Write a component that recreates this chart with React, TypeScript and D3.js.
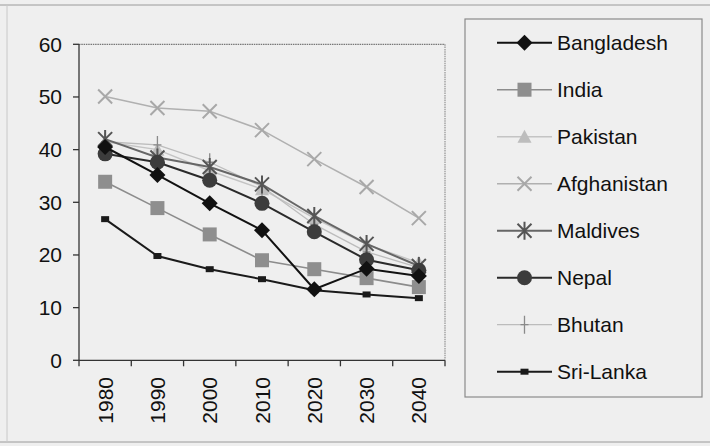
import React, { useEffect } from "react";
import * as d3 from "d3";

const years = ["1980", "1990", "2000", "2010", "2020", "2030", "2040"];
const yTicks = [0, 10, 20, 30, 40, 50, 60];

const bangladesh = [40.5, 35.2, 29.8, 24.7, 13.5, 17.4, 16.0];
const india = [33.9, 28.9, 23.9, 19.0, 17.3, 15.6, 13.9];
const pakistan = [41.5, 40.0, 36.0, 32.5, 27.0, 22.0, 18.5];
const afghanistan = [50.1, 47.9, 47.3, 43.7, 38.2, 32.9, 27.0];
const maldives = [42.0, 38.5, 36.7, 33.4, 27.4, 22.1, 17.9];
const nepal = [39.2, 37.6, 34.2, 29.8, 24.4, 19.1, 17.1];
const bhutan = [41.5, 40.9, 37.6, 33.0, 25.8, 20.6, 17.6];
const sriLanka = [26.8, 19.8, 17.3, 15.4, 13.3, 12.5, 11.8];

type Marker = "diamond" | "square" | "triangle" | "x" | "asterisk" | "circle" | "plus" | "smallsquare";
interface Series { name: string; values: number[]; line: string; lw: number; marker: Marker; mcolor: string; }

const series: Series[] = [
  { name: "Afghanistan", values: afghanistan, line: "#b0b0b0", lw: 1.6, marker: "x", mcolor: "#a8a8a8" },
  { name: "Pakistan", values: pakistan, line: "#c4c4c4", lw: 1.5, marker: "triangle", mcolor: "#bdbdbd" },
  { name: "Bhutan", values: bhutan, line: "#bcbcbc", lw: 1.3, marker: "plus", mcolor: "#8a8a8a" },
  { name: "India", values: india, line: "#8c8c8c", lw: 1.6, marker: "square", mcolor: "#8e8e8e" },
  { name: "Maldives", values: maldives, line: "#666666", lw: 2, marker: "asterisk", mcolor: "#555555" },
  { name: "Nepal", values: nepal, line: "#2a2a2a", lw: 2, marker: "circle", mcolor: "#3c3c3c" },
  { name: "Sri-Lanka", values: sriLanka, line: "#1a1a1a", lw: 2, marker: "smallsquare", mcolor: "#1a1a1a" },
  { name: "Bangladesh", values: bangladesh, line: "#111111", lw: 2, marker: "diamond", mcolor: "#111111" },
];

const legendOrder = ["Bangladesh", "India", "Pakistan", "Afghanistan", "Maldives", "Nepal", "Bhutan", "Sri-Lanka"];

const W = 710, H = 446;
const left = 79, right = 445, top = 44.3, bottom = 360.3;

function MarkerShape({ m, cx, cy, color }: { m: Marker; cx: number; cy: number; color: string }) {
  switch (m) {
    case "diamond":
      return <path d={`M${cx},${cy - 8}L${cx + 8},${cy}L${cx},${cy + 8}L${cx - 8},${cy}Z`} fill={color} />;
    case "square":
      return <rect x={cx - 7} y={cy - 7} width={14} height={14} fill={color} />;
    case "smallsquare":
      return <rect x={cx - 4} y={cy - 3} width={8} height={6} fill={color} />;
    case "triangle":
      return <path d={`M${cx},${cy - 7}L${cx + 7},${cy + 6}L${cx - 7},${cy + 6}Z`} fill={color} />;
    case "circle":
      return <circle cx={cx} cy={cy} r={7.5} fill={color} />;
    case "x":
      return <path d={`M${cx - 7},${cy - 7}L${cx + 7},${cy + 7}M${cx + 7},${cy - 7}L${cx - 7},${cy + 7}`} stroke={color} strokeWidth={2} fill="none" />;
    case "asterisk":
      return <path d={`M${cx - 7},${cy - 7}L${cx + 7},${cy + 7}M${cx + 7},${cy - 7}L${cx - 7},${cy + 7}M${cx},${cy - 9}L${cx},${cy + 9}`} stroke={color} strokeWidth={2} fill="none" />;
    case "plus":
      return <path d={`M${cx},${cy - 9}L${cx},${cy + 9}M${cx - 4},${cy}L${cx + 4},${cy}`} stroke={color} strokeWidth={1.3} fill="none" />;
  }
}

export default function App() {
  useEffect(() => {
    document.body.style.margin = "0";
  }, []);
  const x = d3.scaleBand().domain(years).range([left, right]);
  const y = d3.scaleLinear().domain([0, 60]).range([bottom, top]);
  const line = d3.line<number>().x((_, i) => (x(years[i]) as number) + x.bandwidth() / 2).y((v) => y(v));
  const font = "'Liberation Sans', Arial, sans-serif";
  const legX = 465, legY = 19, legW = 237, legH = 378;
  const legRow = (i: number) => 42.7 + i * 47;

  return (
    <svg width={W} height={H} style={{ display: "block" }} fontFamily={font}>
      <rect x={0} y={0} width={W} height={H} fill="#efefef" />
      <line x1={0} x2={W} y1={5} y2={5} stroke="#9a9a9a" strokeWidth={1} />
      <line x1={0} x2={W} y1={442} y2={442} stroke="#9a9a9a" strokeWidth={1} />
      <line x1={7} x2={7} y1={5} y2={442} stroke="#c8c8c8" strokeWidth={1} />
      <line x1={left} x2={right} y1={top} y2={top} stroke="#777" strokeWidth={1.3} strokeDasharray="1.5 0.8" />
      <line x1={right} x2={right} y1={top} y2={bottom} stroke="#999" strokeWidth={1.3} strokeDasharray="1.5 0.8" />
      <line x1={left} x2={left} y1={top} y2={bottom} stroke="#333" strokeWidth={1.3} />
      {yTicks.map((t) => (
        <g key={t}>
          <line x1={left - 6} x2={left} y1={y(t)} y2={y(t)} stroke="#333" strokeWidth={1.3} />
          <text x={62} y={y(t)} dy="0.35em" textAnchor="end" fontSize={21} fill="#111">{t}</text>
        </g>
      ))}
      <line x1={left} x2={right} y1={bottom} y2={bottom} stroke="#333" strokeWidth={1.3} />
      {years.map((yr) => (
        <line key={"t" + yr} x1={x(yr) as number} x2={x(yr) as number} y1={bottom} y2={bottom + 6} stroke="#333" strokeWidth={1.3} />
      ))}
      <line x1={right} x2={right} y1={bottom} y2={bottom + 6} stroke="#333" strokeWidth={1.3} />
      {years.map((yr) => {
        const cx = (x(yr) as number) + x.bandwidth() / 2;
        return (
          <text key={yr} transform={`translate(${cx + 7.5},377) rotate(-90)`} textAnchor="end" fontSize={21} fill="#111">{yr}</text>
        );
      })}
      {series.map((s) => (
        <g key={s.name}>
          <path d={line(s.values) as string} fill="none" stroke={s.line} strokeWidth={s.lw} />
          {s.values.map((v, i) => (
            <MarkerShape key={i} m={s.marker} cx={(x(years[i]) as number) + x.bandwidth() / 2} cy={y(v)} color={s.mcolor} />
          ))}
        </g>
      ))}
      <rect x={legX} y={legY} width={legW} height={legH} fill="none" stroke="#8a8a8a" strokeWidth={1.2} />
      {legendOrder.map((n, i) => {
        const s = series.find((d) => d.name === n)!;
        const cy = legRow(i);
        return (
          <g key={n}>
            <line x1={497} x2={552} y1={cy} y2={cy} stroke={s.line} strokeWidth={s.lw} />
            <MarkerShape m={s.marker} cx={524.5} cy={cy} color={s.mcolor} />
            <text x={557} y={cy} dy="0.35em" fontSize={21} fill="#111">{n}</text>
          </g>
        );
      })}
    </svg>
  );
}
